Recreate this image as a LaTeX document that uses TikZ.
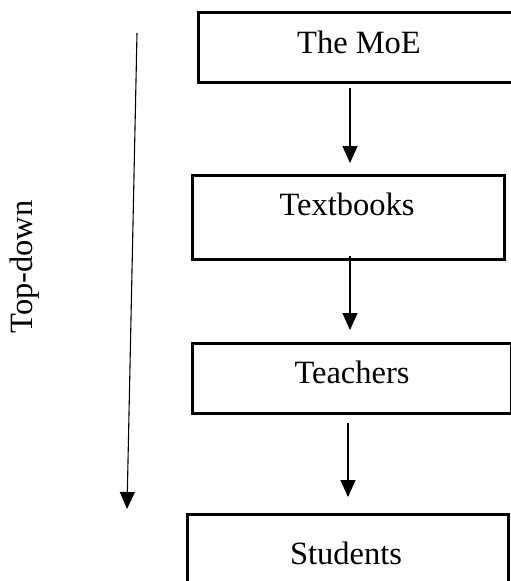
\documentclass[tikz,border=0pt]{standalone}
\usepackage{fontspec}
\setmainfont{Liberation Serif}
\usetikzlibrary{arrows.meta}
\begin{document}
\begin{tikzpicture}[x=1pt,y=-1pt,
  boxstyle/.style={draw,line width=2.8pt,inner sep=0pt,anchor=north west},
  lbl/.style={font=\fontsize{32.5}{38}\selectfont,anchor=base,inner sep=0pt},
  arr/.style={line width=1.1pt,-{Triangle[length=17pt,width=15pt]}}]
\useasboundingbox (0,0) rectangle (511,581);
\clip (0,0) rectangle (511,581);
\node[boxstyle,minimum width=330pt,minimum height=70pt] (b1) at (197,11) {};
\node[boxstyle,minimum width=312pt,minimum height=84pt] (b2) at (191,174) {};
\node[boxstyle,minimum width=319pt,minimum height=70pt] (b3) at (191,342) {};
\node[boxstyle,minimum width=321pt,minimum height=90pt] (b4) at (186,513) {};
\node[lbl] (t1) at (359,53) {The MoE};
\node[lbl] (t2) at (347,215) {Textbooks};
\node[lbl] (t3) at (352,383) {Teachers};
\node[lbl] (t4) at (346,564) {Students};
\coordinate (a1s) at (350,88);
\coordinate (a1e) at (350,163);
\coordinate (a2s) at (350,256);
\coordinate (a2e) at (350,330);
\coordinate (a3s) at (348,423);
\coordinate (a3e) at (348,497);
\draw[arr] (a1s) -- (a1e);
\draw[arr] (a2s) -- (a2e);
\draw[arr] (a3s) -- (a3e);
\coordinate (ls) at (137,33);
\coordinate (le) at (127,509);
\draw[arr] (ls) -- (le);
\node[lbl,anchor=center,rotate=90] (td) at (25,267) {Top-down};
\end{tikzpicture}
\end{document}
